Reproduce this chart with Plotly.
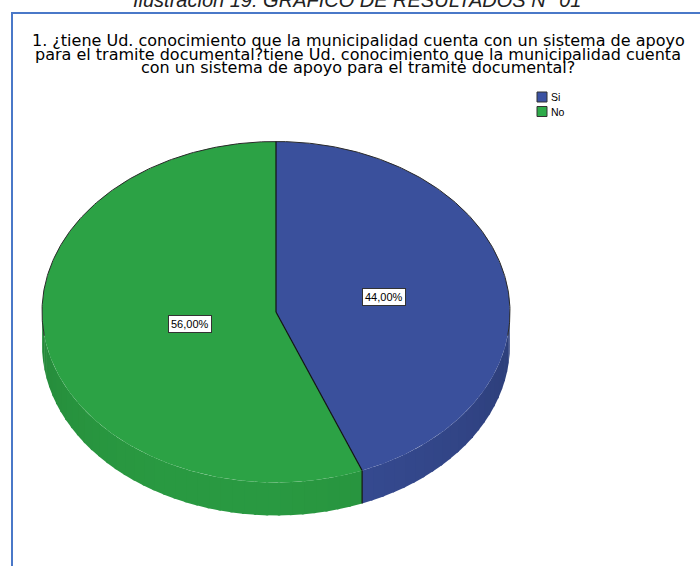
import numpy as np
import plotly.graph_objects as go

# ---- data -------------------------------------------------------------
categories = ["Si", "No"]
percentages = [44.0, 56.0]

question_lines = [
    "1. ¿tiene Ud. conocimiento que la municipalidad cuenta con un sistema de apoyo",
    "para el tramite documental?tiene Ud. conocimiento que la municipalidad cuenta",
    "con un sistema de apoyo para el tramite documental?",
]
caption = "Ilustración 19: GRÁFICO DE RESULTADOS N° 01"

# ---- style ------------------------------------------------------------
top_colors = ["#3a509c", "#2ca245"]
legend_colors = ["#3b52a3", "#2eab4a"]
frame_color = "#4a78c8"

W, H = 700, 566
CX, CY = 276, 312          # centre of the top face (px)
RX, RY = 234, 170.5        # radii of the elliptical top face (px)
DEPTH = 33                 # thickness of the disc (px)
label_radius = [0.47, 0.375]


def pt(theta, r=1.0, dy=0.0):
    """Angle in degrees, clockwise from 12 o'clock -> page pixels."""
    t = np.radians(theta)
    return CX + RX * r * np.sin(t), CY - RY * r * np.cos(t) + dy


def shade(hex_color, f):
    h = hex_color.lstrip("#")
    r, g, b = (int(h[i:i + 2], 16) for i in (0, 2, 4))
    return "rgb({},{},{})".format(int(r * f), int(g * f), int(b * f))


total = sum(percentages)
ends = np.cumsum(percentages) / total * 360.0
starts = np.concatenate([[0.0], ends[:-1]])

fig = go.Figure()

# side wall of the disc (front half only), built from shaded strips
for i in range(len(categories)):
    lo, hi = max(starts[i], 90.0), min(ends[i], 270.0)
    if lo >= hi:
        continue
    n = int(np.ceil((hi - lo) / 3.0))
    edges = np.linspace(lo, hi, n + 1)
    for s0, s1 in zip(edges[:-1], edges[1:]):
        mid = 0.5 * (s0 + s1)
        f = 0.80 + 0.15 * max(0.0, np.cos(np.radians(mid - 195.0)))
        arc = np.linspace(s0, min(s1 + 0.6, hi), 6)
        xt, yt = pt(arc)
        xs = np.concatenate([xt, xt[::-1]])
        ys = np.concatenate([yt, yt[::-1] + DEPTH])
        fig.add_trace(go.Scatter(
            x=xs, y=ys, mode="lines", fill="toself",
            fillcolor=shade(top_colors[i], f), line=dict(width=0),
            hoverinfo="skip", showlegend=False))

# top faces of the slices
for i in range(len(categories)):
    arc = np.linspace(starts[i], ends[i], 240)
    xa, ya = pt(arc)
    fig.add_trace(go.Scatter(
        x=np.concatenate([[CX], xa, [CX]]),
        y=np.concatenate([[CY], ya, [CY]]),
        mode="lines", fill="toself", fillcolor=top_colors[i],
        line=dict(width=0), hoverinfo="skip", showlegend=False))

# outline of the rear rim
rim = np.linspace(262, 458, 300)
xr, yr = pt(rim)
fig.add_trace(go.Scatter(x=xr, y=yr, mode="lines",
                         line=dict(color="#2a2a2a", width=1),
                         hoverinfo="skip", showlegend=False))

# slice boundaries: radial lines on top, vertical seam on the side wall
for b in starts:
    bx, by = pt(b)
    fig.add_trace(go.Scatter(x=[CX, bx], y=[CY, by], mode="lines",
                             line=dict(color="#111111", width=1.2),
                             hoverinfo="skip", showlegend=False))
    if 90.0 < b < 270.0:
        fig.add_trace(go.Scatter(x=[bx, bx], y=[by, by + DEPTH], mode="lines",
                                 line=dict(color="#111111", width=1.2),
                                 hoverinfo="skip", showlegend=False))

annotations = []

# percentage labels
for i, p in enumerate(percentages):
    mid = 0.5 * (starts[i] + ends[i])
    lx, ly = pt(mid, r=label_radius[i])
    annotations.append(dict(
        x=lx, y=ly, xref="x", yref="y", showarrow=False,
        text="{:.2f}%".format(p).replace(".", ","),
        font=dict(family="Liberation Sans, Arial", size=11, color="#000000"),
        bgcolor="#ffffff", bordercolor="#333333", borderwidth=1, borderpad=2))

# question title, one line per annotation to keep tight spacing
for k, (line, yc) in enumerate(zip(question_lines, [40.5, 54, 67.5])):
    annotations.append(dict(
        x=358, y=yc, xref="x", yref="y", xanchor="center", yanchor="middle",
        showarrow=False, text=line,
        font=dict(family="DejaVu Sans", size=16, color="#000000")))

# figure caption above the frame
annotations.append(dict(
    x=357, y=13, xref="x", yref="y", xanchor="center", yanchor="bottom",
    showarrow=False, text=caption,
    font=dict(family="Liberation Sans, Arial", size=20, color="#222222",
              style="italic")))

# legend
shapes = []
for i, name in enumerate(categories):
    yc = 97 + 14.5 * i
    shapes.append(dict(type="rect", xref="x", yref="y",
                       x0=537, x1=547, y0=yc - 5, y1=yc + 5,
                       fillcolor=legend_colors[i],
                       line=dict(color="#333333", width=1)))
    annotations.append(dict(
        x=549, y=yc, xref="x", yref="y", xanchor="left", yanchor="middle",
        showarrow=False, text=name,
        font=dict(family="Liberation Sans, Arial", size=10.5, color="#000000")))

# frame around the chart
shapes.append(dict(type="path", xref="x", yref="y",
                   path="M 12 {} L 12 13 L {} 13".format(H + 5, W + 5),
                   line=dict(color=frame_color, width=2)))

fig.update_layout(
    width=W, height=H, margin=dict(l=0, r=0, t=0, b=0),
    paper_bgcolor="#ffffff", plot_bgcolor="#ffffff",
    xaxis=dict(range=[0, W], visible=False, fixedrange=True),
    yaxis=dict(range=[H, 0], visible=False, fixedrange=True),
    showlegend=False, annotations=annotations, shapes=shapes,
)

fig.write_html("out.html", config={"displayModeBar": False})
